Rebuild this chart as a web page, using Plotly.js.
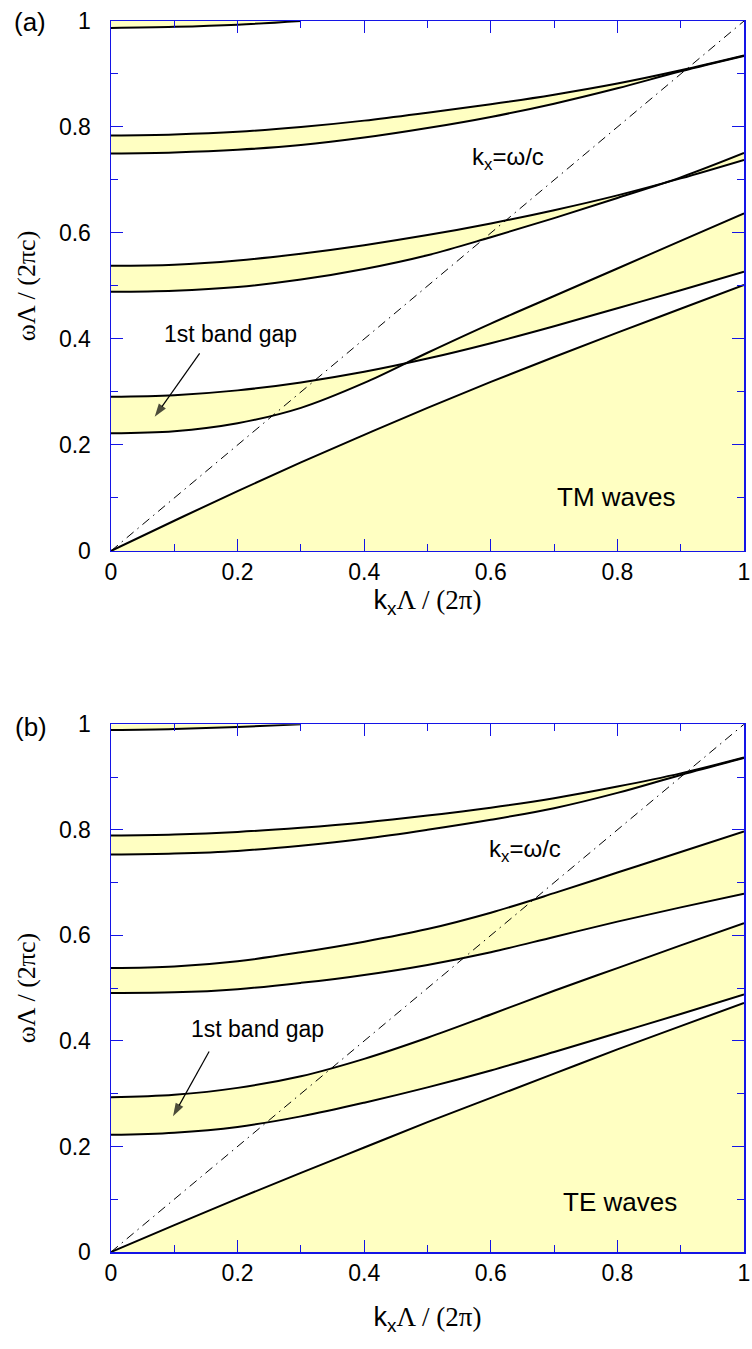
<!DOCTYPE html>
<html>
<head>
<meta charset="utf-8">
<script src="https://cdn.plot.ly/plotly-3.0.1.min.js"></script>
<style>html,body{margin:0;padding:0;background:#fff;}#plot{width:752px;height:1349px;}</style>
</head>
<body>
<div id="plot"></div>
<script>
// ---- data ----
const kx = [0, 0.1, 0.2, 0.3, 0.4, 0.5, 0.6, 0.7, 0.8, 0.9, 1.0];

// TM waves, panel (a)
const tmC1 = [0, 0.057, 0.113, 0.167, 0.219, 0.270, 0.319, 0.366, 0.412, 0.457, 0.502];
const tmC2 = [0.222, 0.226, 0.241, 0.270, 0.317, 0.374, 0.429, 0.481, 0.533, 0.585, 0.637];
const tmC3 = [0.291, 0.294, 0.303, 0.318, 0.338, 0.363, 0.392, 0.424, 0.458, 0.492, 0.527];
const tmC4 = [0.489, 0.491, 0.498, 0.512, 0.532, 0.558, 0.592, 0.628, 0.666, 0.705, 0.751];
const tmC5 = [0.538, 0.540, 0.548, 0.561, 0.577, 0.596, 0.618, 0.643, 0.671, 0.703, 0.738];
const tmC6 = [0.750, 0.752, 0.757, 0.766, 0.780, 0.798, 0.819, 0.844, 0.873, 0.905, 0.934];
const tmC7 = [0.784, 0.786, 0.791, 0.800, 0.812, 0.827, 0.843, 0.861, 0.882, 0.907, 0.935];
const tmC8x = [0, 0.1, 0.2, 0.3];
const tmC8 = [0.987, 0.989, 0.993, 1.0];

// TE waves, panel (b)
const teC1 = [0, 0.051, 0.101, 0.150, 0.198, 0.246, 0.292, 0.338, 0.384, 0.428, 0.472];
const teC2 = [0.222, 0.226, 0.237, 0.257, 0.283, 0.312, 0.344, 0.379, 0.415, 0.451, 0.488];
const teC3 = [0.293, 0.298, 0.311, 0.333, 0.366, 0.406, 0.450, 0.495, 0.538, 0.581, 0.623];
const teC4 = [0.491, 0.492, 0.498, 0.510, 0.525, 0.544, 0.568, 0.597, 0.626, 0.653, 0.679];
const teC5 = [0.538, 0.541, 0.551, 0.568, 0.588, 0.612, 0.643, 0.680, 0.719, 0.758, 0.797];
const teC6 = [0.753, 0.755, 0.760, 0.770, 0.783, 0.800, 0.819, 0.841, 0.870, 0.904, 0.936];
const teC7 = [0.789, 0.791, 0.796, 0.804, 0.814, 0.827, 0.842, 0.860, 0.882, 0.907, 0.937];
const teC8x = [0, 0.1, 0.2, 0.3];
const teC8 = [0.989, 0.991, 0.995, 1.0];

// band top edge (upper limit of the top band) and light line kx = w/c
const topEdge = [1, 1, 1, 1];
const lightX = [0, 1];
const lightV = [0, 1];

// "1st band gap" pointer arrows: [tail, head]
const arrowTMx = [0.140, 0.069];
const arrowTMy = [0.373, 0.253];
const arrowTEx = [0.155, 0.098];
const arrowTEy = [0.380, 0.257];

// tick labels
const tickVals = [0, 0.2, 0.4, 0.6, 0.8, 1];
const tickText = ['0', '0.2', '0.4', '0.6', '0.8', '1'];

// ---- styles ----
const FILL = 'rgb(255,255,194)';
const BLUE = 'rgb(20,20,230)';
const SANS = 'Liberation Sans, Arial, sans-serif';
const SERIF = 'Liberation Serif, Times New Roman, serif';

function curve(x, y, xa, ya, fill) {
  return {x: x, y: y, xaxis: xa, yaxis: ya, type: 'scatter', mode: 'lines',
    line: {color: 'black', width: 2, shape: 'spline', smoothing: 1.0},
    fill: fill || 'none', fillcolor: FILL, hoverinfo: 'skip', showlegend: false};
}

function panel(c, xa, ya, ax, ay) {
  const t = [];
  t.push(curve(kx, c[0], xa, ya, 'tozeroy'));
  t.push(curve(kx, c[1], xa, ya));
  t.push(curve(kx, c[2], xa, ya, 'tonexty'));
  t.push(curve(kx, c[3], xa, ya));
  t.push(curve(kx, c[4], xa, ya, 'tonexty'));
  t.push(curve(kx, c[5], xa, ya));
  t.push(curve(kx, c[6], xa, ya, 'tonexty'));
  t.push(curve(c[7], c[8], xa, ya));
  const edge = curve(c[7], topEdge, xa, ya, 'tonexty');
  edge.line = {width: 0, color: 'rgba(0,0,0,0)'};
  t.push(edge);
  t.push({x: lightX, y: lightV, xaxis: xa, yaxis: ya, type: 'scatter', mode: 'lines',
    line: {color: 'black', width: 1, dash: '9px,5px,1.5px,5px'}, hoverinfo: 'skip', showlegend: false});
  t.push({x: ax, y: ay, xaxis: xa, yaxis: ya, type: 'scatter', mode: 'lines+markers',
    line: {color: 'black', width: 1.2},
    marker: {symbol: ['circle', 'arrow'], size: [0, 14], angleref: 'previous', color: 'black', line: {width: 0}},
    cliponaxis: false, hoverinfo: 'skip', showlegend: false});
  return t;
}

const traces = [].concat(
  panel([tmC1, tmC2, tmC3, tmC4, tmC5, tmC6, tmC7, tmC8x, tmC8], 'x', 'y', arrowTMx, arrowTMy),
  panel([teC1, teC2, teC3, teC4, teC5, teC6, teC7, teC8x, teC8], 'x2', 'y2', arrowTEx, arrowTEy)
);

function xaxis(anchor, standoff) {
  return {
    anchor: anchor, domain: [0, 1], range: [0, 1], fixedrange: true,
    tickvals: tickVals, ticktext: tickText,
    ticks: 'inside', ticklen: 12, tickwidth: 1, tickcolor: BLUE,
    minor: {dtick: 0.1, tick0: 0, ticks: 'inside', ticklen: 7, tickwidth: 1, tickcolor: BLUE, showgrid: false},
    showline: true, linecolor: BLUE, linewidth: 1.5, mirror: 'ticks',
    showgrid: false, zeroline: false,
    tickfont: {family: SANS, size: 23, color: 'black'},
    ticklabelstandoff: 0,
    title: {text: '<span style="font-family:Liberation Sans">k<sub>x</sub></span>Λ / (2π)',
      font: {family: SERIF, size: 27, color: 'black'}, standoff: standoff}
  };
}
function yaxis(anchor, dom) {
  return {
    anchor: anchor, domain: dom, range: [0, 1], fixedrange: true,
    tickvals: tickVals, ticktext: tickText,
    ticks: 'inside', ticklen: 12, tickwidth: 1, tickcolor: BLUE,
    minor: {dtick: 0.1, tick0: 0, ticks: 'inside', ticklen: 7, tickwidth: 1, tickcolor: BLUE, showgrid: false},
    showline: true, linecolor: BLUE, linewidth: 1.5, mirror: 'ticks',
    showgrid: false, zeroline: false,
    tickfont: {family: SANS, size: 23, color: 'black'},
    ticklabelstandoff: 14,
    title: {text: 'ωΛ / (2πc)', font: {family: SERIF, size: 26, color: 'black'}, standoff: 16}
  };
}

function note(xref, yref, x, y, text, size) {
  return {xref: xref, yref: yref, x: x, y: y, text: text, showarrow: false,
    xanchor: 'center', yanchor: 'middle', font: {family: SANS, size: size, color: 'black'}};
}

const annotations = [
  note('paper', 'paper', -0.128, 0.999, '(a)', 26),
  note('paper', 'paper', -0.126, 0.4265, '(b)', 26),
  note('x', 'y', 0.627, 0.740, 'k<sub>x</sub>=ω/c', 24),
  note('x2', 'y2', 0.654, 0.760, 'k<sub>x</sub>=ω/c', 24),
  note('x', 'y', 0.798, 0.102, 'TM waves', 26),
  note('x2', 'y2', 0.804, 0.095, 'TE waves', 26),
  note('x', 'y', 0.188, 0.410, '1st band gap', 23),
  note('x2', 'y2', 0.232, 0.423, '1st band gap', 23)
];

const layout = {
  width: 752, height: 1349,
  margin: {l: 111, r: 8, t: 21, b: 97},
  paper_bgcolor: 'white', plot_bgcolor: 'white',
  showlegend: false,
  xaxis: xaxis('y', 6),
  yaxis: yaxis('x', [0.5695, 1]),
  xaxis2: xaxis('y2', 22),
  yaxis2: yaxis('x2', [0, 0.4287]),
  annotations: annotations
};

Plotly.newPlot('plot', traces, layout, {staticPlot: true, displayModeBar: false});
</script>
</body>
</html>
